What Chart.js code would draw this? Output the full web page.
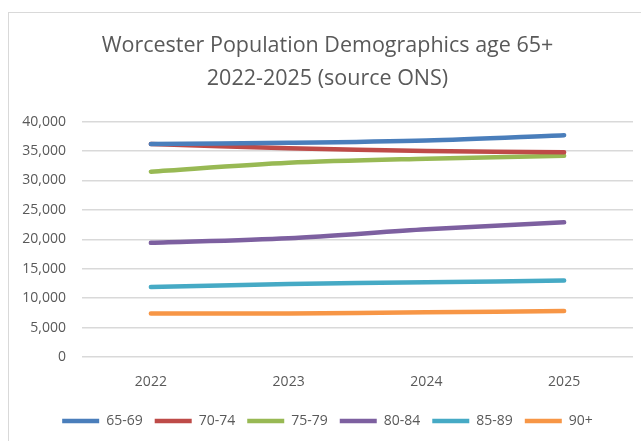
<!DOCTYPE html>
<html>
<head>
<meta charset="utf-8">
<script src="https://cdn.jsdelivr.net/npm/chart.js@4"></script>
<style>
  html, body { margin: 0; padding: 0; background: #fff; overflow: hidden; }
  #frame { position: absolute; left: 8px; top: 12px; width: 700px; height: 500px; border: 1px solid #d9d9d9; }
  #wrap { position: absolute; left: 0; top: 0; width: 641px; height: 441px; }
</style>
</head>
<body>
<div id="frame"></div>
<div id="wrap"><canvas id="chart" width="641" height="441"></canvas></div>
<script>
// values
const years = ["2022", "2023", "2024", "2025"];
const ageGroups = ["65-69", "70-74", "75-79", "80-84", "85-89", "90+"];
const age65to69 = [36200, 36400, 36800, 37700];
const age70to74 = [36200, 35500, 35000, 34800];
const age75to79 = [31500, 33000, 33700, 34200];
const age80to84 = [19400, 20200, 21700, 22900];
const age85to89 = [11900, 12400, 12700, 13000];
const age90plus = [7400, 7400, 7600, 7800];
const colors = ["#4a7ebb", "#be4b48", "#98b954", "#7d60a0", "#46aac5", "#f79646"];

const seriesValues = [age65to69, age70to74, age75to79, age80to84, age85to89, age90plus];

const datasets = seriesValues.map((vals, i) => ({
  label: ageGroups[i],
  data: vals,
  borderColor: colors[i],
  backgroundColor: colors[i],
  borderWidth: 4.5,
  borderCapStyle: "round",
  tension: 0.3,
  pointRadius: 0,
  fill: false
}));

const textGrey = "#595959";

new Chart(document.getElementById("chart"), {
  type: "line",
  data: { labels: years, datasets },
  options: {
    responsive: false,
    animation: false,
    layout: { padding: { left: 22, right: 8, top: 0, bottom: 3 } },
    plugins: {
      title: {
        display: true,
        text: ["Worcester Population Demographics age 65+", "2022-2025 (source ONS)"],
        color: textGrey,
        font: { family: "Open Sans", size: 21.5, weight: "normal", lineHeight: 1.55 },
        padding: { top: 29, bottom: 26 }
      },
      legend: {
        position: "bottom",
        labels: {
          usePointStyle: true,
          pointStyle: "line",
          pointStyleWidth: 37,
          color: textGrey,
          font: { family: "Open Sans", size: 14 },
          padding: 12
        }
      },
      tooltip: { enabled: false }
    },
    scales: {
      x: {
        offset: true,
        grid: { display: false, drawTicks: false },
        border: { display: false },
        ticks: { color: textGrey, font: { family: "Open Sans", size: 14 }, padding: 17 },
        afterFit: s => { s.height = 45; }
      },
      y: {
        min: 0,
        max: 40000,
        ticks: {
          stepSize: 5000,
          color: textGrey,
          font: { family: "Open Sans", size: 14 },
          padding: 16,
          callback: v => v.toLocaleString("en-US")
        },
        grid: { color: "#d9d9d9", lineWidth: 1.5, drawTicks: false },
        border: { display: false },
        afterFit: s => { s.width = 60; }
      }
    }
  }
});
</script>
</body>
</html>
